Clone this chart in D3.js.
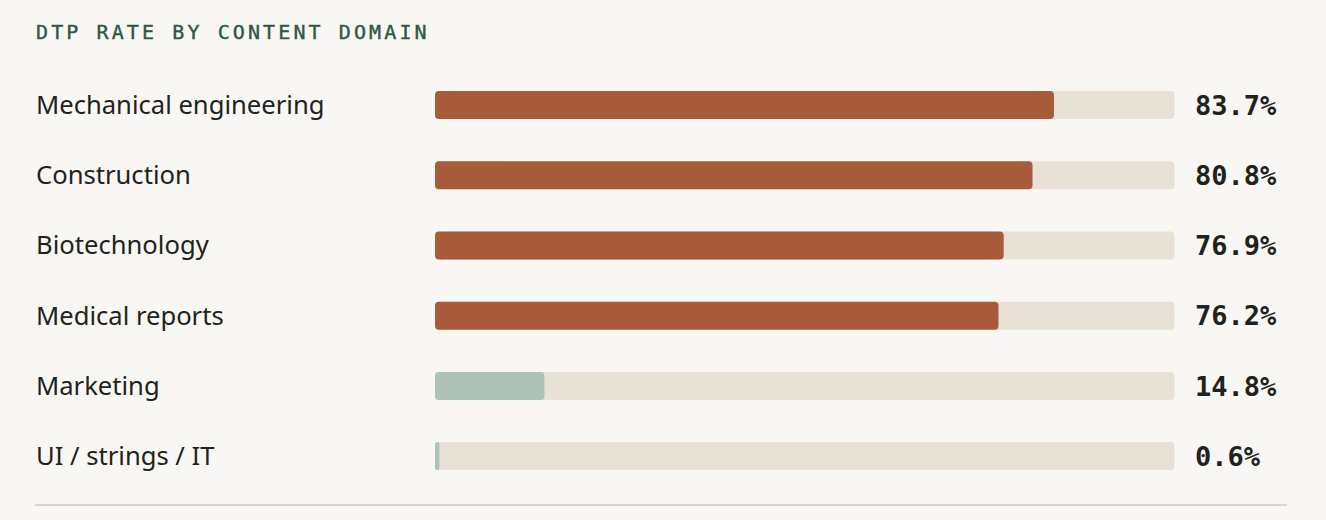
<!DOCTYPE html>
<html>
<head>
<meta charset="utf-8">
<script src="https://cdn.jsdelivr.net/npm/d3@7"></script>
<style>
  html, body { margin: 0; padding: 0; background: #f9f7f3; }
  svg { display: block; }
</style>
</head>
<body>
<div id="chart"></div>
<script>
const categories = ["Mechanical engineering", "Construction", "Biotechnology", "Medical reports", "Marketing", "UI / strings / IT"];
const values = [83.7, 80.8, 76.9, 76.2, 14.8, 0.6];
const highlight = [true, true, true, true, false, false];
const valueLabels = ["83.7%", "80.8%", "76.9%", "76.2%", "14.8%", "0.6%"];
const title = "DTP RATE BY CONTENT DOMAIN";

const W = 1326, H = 520;
const svg = d3.select("#chart").append("svg").attr("width", W).attr("height", H);
svg.append("rect").attr("width", W).attr("height", H).attr("fill", "#f9f7f3");

svg.append("text")
  .attr("x", 36).attr("y", 38.5)
  .attr("fill", "#2f5745")
  .attr("stroke", "#2f5745").attr("stroke-width", 0.4)
  .style("font-family", "'DejaVu Sans Mono', monospace")
  .style("font-size", "20px")
  .style("letter-spacing", "3.1px")
  .text(title);

const x = d3.scaleLinear().domain([0, 100]).range([435, 1174.5]);
const y = d3.scaleBand().domain(categories).range([70, 70 + 6 * 70.2]).paddingInner(0).paddingOuter(0);
const barH = 28;
const cy = d => y(d) + y.bandwidth() / 2;

const rows = svg.append("g").selectAll("g").data(categories).join("g");

rows.append("text")
  .attr("x", 36).attr("y", d => cy(d))
  .attr("dy", "0.35em")
  .attr("fill", "#1e2320")
  .style("font-family", "'Noto Sans', sans-serif")
  .style("font-size", "25.6px")
  .text(d => d);

rows.append("rect")
  .attr("x", x(0)).attr("y", d => cy(d) - barH / 2)
  .attr("width", x(100) - x(0)).attr("height", barH)
  .attr("rx", 4).attr("fill", "#e8e2d6");

rows.append("rect")
  .attr("x", x(0)).attr("y", d => cy(d) - barH / 2)
  .attr("width", (d, i) => x(values[i]) - x(0)).attr("height", barH)
  .attr("rx", (d, i) => Math.min(4, (x(values[i]) - x(0)) / 2))
  .attr("fill", (d, i) => highlight[i] ? "#a85b3a" : "#adc3b9");

rows.append("text")
  .attr("x", 1195).attr("y", d => cy(d))
  .attr("dy", "0.36em")
  .attr("fill", "#1e2320")
  .style("font-family", "'DejaVu Sans Mono', monospace")
  .style("font-size", "27px")
  .style("font-weight", "bold")
  .text((d, i) => valueLabels[i]);

svg.append("line")
  .attr("x1", 35).attr("x2", 1287)
  .attr("y1", 505).attr("y2", 505)
  .attr("stroke", "#dcd6c6").attr("stroke-width", 2);
</script>
</body>
</html>
